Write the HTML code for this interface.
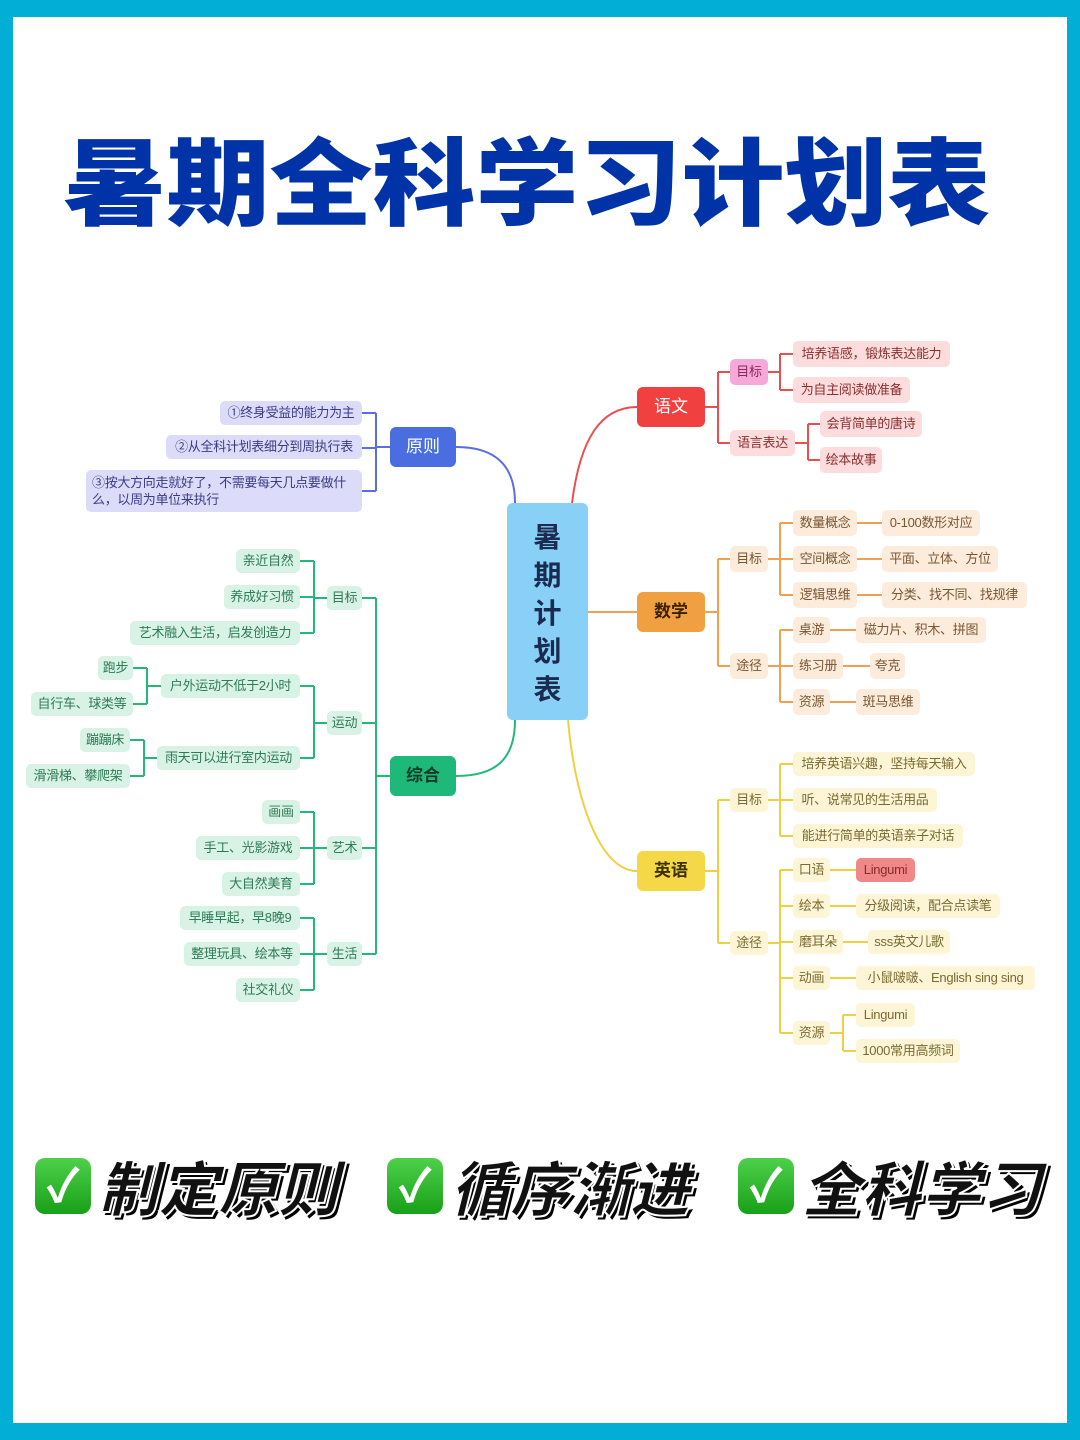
<!DOCTYPE html>
<html><head><meta charset="utf-8"><style>
*{margin:0;padding:0;box-sizing:border-box}
body{width:1080px;height:1440px;background:#03aed6;position:relative;overflow:hidden;font-family:"Liberation Sans","Noto Sans CJK SC",sans-serif}
#w{position:absolute;left:13px;top:17px;width:1054px;height:1406px;background:#fff}
h1{position:absolute;left:27px;top:112px;width:1000px;text-align:center;font-family:"Noto Sans CJK SC",sans-serif;font-weight:900;font-size:103px;color:#0033a8;line-height:130px;transform:scaleY(0.92);transform-origin:50% 50%}
.b{position:absolute;height:24px;line-height:24px;font-size:13px;text-align:center;border-radius:5px;white-space:nowrap;letter-spacing:-0.3px}
.m{position:absolute;height:40px;line-height:40px;font-size:17px;text-align:center;border-radius:6px;font-weight:bold}
.p{background:#dcdcfa;color:#3a3a88}
.g{background:#d8f3e5;color:#2d7a55}
.r{background:#fcdcdc;color:#8a3030}
.o{background:#fdecdc;color:#7a5530}
.y{background:#fdf5d5;color:#7a6a30}
svg{position:absolute;left:0;top:0}
.ft{position:absolute;top:1148px;font-family:"Noto Sans CJK SC",sans-serif;font-weight:900;font-size:60px;font-style:italic;color:#111;line-height:76px;-webkit-text-stroke:2px #fff;text-shadow:3px 3px 0 #000,-2px -2px 0 #fff,2px -2px 0 #fff,-2px 2px 0 #fff}
.ck{position:absolute;top:1158px;width:56px;height:56px;border-radius:10px;background:linear-gradient(#4ed04a,#18a018);color:#fff;font-size:46px;line-height:56px;text-align:center;font-weight:bold}
</style></head><body>
<div id="w"></div>
<h1>暑期全科学习计划表</h1>
<svg width="1080" height="1440" fill="none" stroke-width="2">
<g stroke="#5a6ee0">
<path d="M515 503 C515 465 495 447 456 447"/>
<path d="M390 447 H376 M376 413 V491 M362 413 H376 M362 448 H376 M362 491 H376"/>
</g>
<g stroke="#22b87a">
<path d="M515 720 C515 760 495 776 456 776"/>
<path d="M390 776 H376 M376 598 V954 M362 598 H376 M362 723 H376 M362 848 H376 M362 954 H376"/>
<path d="M327 598 H314 M314 561 V633 M300 561 H314 M300 597 H314 M300 633 H314"/>
<path d="M327 723 H314 M314 686 V758 M300 686 H314 M300 758 H314"/>
<path d="M161 686 H147 M147 668 V704 M133 668 H147 M133 704 H147"/>
<path d="M157 758 H144 M144 740 V776 M130 740 H144 M130 776 H144"/>
<path d="M327 848 H314 M314 812 V884 M300 812 H314 M300 848 H314 M300 884 H314"/>
<path d="M327 954 H314 M314 918 V990 M300 918 H314 M300 954 H314 M300 990 H314"/>
</g>
<g stroke="#e85050">
<path d="M572 503 C580 440 600 407 637 407"/>
<path d="M705 407 H718 M718 372 V443 M718 372 H730 M718 443 H730"/>
<path d="M768 372 H780 M780 354 V390 M780 354 H793 M780 390 H793"/>
<path d="M795 443 H808 M808 424 V460 M808 424 H820 M808 460 H820"/>
</g>
<g stroke="#f0a050">
<path d="M588 612 H637"/>
<path d="M705 612 H718 M718 559 V666 M718 559 H730 M718 666 H730"/>
<path d="M768 559 H780 M780 523 V595 M780 523 H793 M780 559 H793 M780 595 H793"/>
<path d="M857 523 H882 M857 559 H882 M857 595 H882"/>
<path d="M768 666 H780 M780 630 V702 M780 630 H793 M780 666 H793 M780 702 H793"/>
<path d="M830 630 H856 M843 666 H870 M830 702 H856"/>
</g>
<g stroke="#f0d040">
<path d="M568 720 C575 800 600 871 637 871"/>
<path d="M705 871 H718 M718 800 V943 M718 800 H730 M718 943 H730"/>
<path d="M768 800 H780 M780 764 V836 M780 764 H793 M780 800 H793 M780 836 H793"/>
<path d="M768 943 H780 M780 870 V1033 M780 870 H793 M780 906 H793 M780 942 H793 M780 978 H793 M780 1033 H793"/>
<path d="M830 870 H856 M830 906 H856 M843 942 H868 M830 978 H856 M830 1033 H843 M843 1015 V1051 M843 1015 H856 M843 1051 H856"/>
</g>
</svg>

<div style="position:absolute;left:507px;top:503px;width:81px;height:217px;background:#88d0f5;border-radius:6px;color:#1a2a50;font-size:28px;line-height:38px;text-align:center;padding-top:14px;font-family:'Noto Sans CJK SC',sans-serif;font-weight:bold">暑<br>期<br>计<br>划<br>表</div>

<div class="m" style="left:390px;top:427px;width:66px;background:#4a6ee0;color:#fff;font-weight:normal">原则</div>
<div class="b p" style="left:220px;top:401px;width:142px">①终身受益的能力为主</div>
<div class="b p" style="left:166px;top:435px;width:196px">②从全科计划表细分到周执行表</div>
<div class="b p" style="left:86px;top:470px;width:276px;height:42px;line-height:17px;text-align:left;padding:4px 6px;white-space:normal">③按大方向走就好了，不需要每天几点要做什么，以周为单位来执行</div>

<div class="m" style="left:390px;top:756px;width:66px;background:#1db87a;color:#0c3a25">综合</div>
<div class="b g" style="left:327px;top:586px;width:35px">目标</div>
<div class="b g" style="left:327px;top:711px;width:35px">运动</div>
<div class="b g" style="left:327px;top:836px;width:35px">艺术</div>
<div class="b g" style="left:327px;top:942px;width:35px">生活</div>
<div class="b g" style="left:236px;top:549px;width:64px">亲近自然</div>
<div class="b g" style="left:224px;top:585px;width:76px">养成好习惯</div>
<div class="b g" style="left:130px;top:621px;width:170px">艺术融入生活，启发创造力</div>
<div class="b g" style="left:161px;top:674px;width:139px">户外运动不低于2小时</div>
<div class="b g" style="left:157px;top:746px;width:143px">雨天可以进行室内运动</div>
<div class="b g" style="left:98px;top:656px;width:35px">跑步</div>
<div class="b g" style="left:31px;top:692px;width:102px">自行车、球类等</div>
<div class="b g" style="left:80px;top:728px;width:50px">蹦蹦床</div>
<div class="b g" style="left:26px;top:764px;width:104px">滑滑梯、攀爬架</div>
<div class="b g" style="left:262px;top:800px;width:38px">画画</div>
<div class="b g" style="left:196px;top:836px;width:104px">手工、光影游戏</div>
<div class="b g" style="left:222px;top:872px;width:78px">大自然美育</div>
<div class="b g" style="left:180px;top:906px;width:120px">早睡早起，早8晚9</div>
<div class="b g" style="left:184px;top:942px;width:116px">整理玩具、绘本等</div>
<div class="b g" style="left:236px;top:978px;width:64px">社交礼仪</div>

<div class="m" style="left:637px;top:387px;width:68px;background:#f04040;color:#fff;font-weight:normal">语文</div>
<div class="b" style="left:730px;top:359px;width:38px;height:26px;line-height:26px;background:#f6a8d8;color:#8a2a5a">目标</div>
<div class="b r" style="left:730px;top:430px;width:65px;height:26px;line-height:26px">语言表达</div>
<div class="b r" style="left:793px;top:341px;width:157px;height:26px;line-height:26px">培养语感，锻炼表达能力</div>
<div class="b r" style="left:793px;top:377px;width:117px;height:26px;line-height:26px">为自主阅读做准备</div>
<div class="b r" style="left:820px;top:411px;width:102px;height:26px;line-height:26px">会背简单的唐诗</div>
<div class="b r" style="left:820px;top:447px;width:62px;height:26px;line-height:26px">绘本故事</div>

<div class="m" style="left:637px;top:592px;width:68px;background:#f0a040;color:#3a2000">数学</div>
<div class="b o" style="left:730px;top:546px;width:38px;height:26px;line-height:26px">目标</div>
<div class="b o" style="left:730px;top:653px;width:38px;height:26px;line-height:26px">途径</div>
<div class="b o" style="left:793px;top:510px;width:64px;height:26px;line-height:26px">数量概念</div>
<div class="b o" style="left:793px;top:546px;width:64px;height:26px;line-height:26px">空间概念</div>
<div class="b o" style="left:793px;top:582px;width:64px;height:26px;line-height:26px">逻辑思维</div>
<div class="b o" style="left:882px;top:510px;width:98px;height:26px;line-height:26px">0-100数形对应</div>
<div class="b o" style="left:882px;top:546px;width:116px;height:26px;line-height:26px">平面、立体、方位</div>
<div class="b o" style="left:882px;top:582px;width:145px;height:26px;line-height:26px">分类、找不同、找规律</div>
<div class="b o" style="left:793px;top:617px;width:37px;height:26px;line-height:26px">桌游</div>
<div class="b o" style="left:793px;top:653px;width:50px;height:26px;line-height:26px">练习册</div>
<div class="b o" style="left:793px;top:689px;width:37px;height:26px;line-height:26px">资源</div>
<div class="b o" style="left:856px;top:617px;width:130px;height:26px;line-height:26px">磁力片、积木、拼图</div>
<div class="b o" style="left:870px;top:653px;width:35px;height:26px;line-height:26px">夸克</div>
<div class="b o" style="left:856px;top:689px;width:64px;height:26px;line-height:26px">斑马思维</div>

<div class="m" style="left:637px;top:851px;width:68px;background:#f5d848;color:#3a3000">英语</div>
<div class="b y" style="left:730px;top:788px;width:38px">目标</div>
<div class="b y" style="left:730px;top:931px;width:38px">途径</div>
<div class="b y" style="left:793px;top:752px;width:182px">培养英语兴趣，坚持每天输入</div>
<div class="b y" style="left:793px;top:788px;width:144px">听、说常见的生活用品</div>
<div class="b y" style="left:793px;top:824px;width:170px">能进行简单的英语亲子对话</div>
<div class="b y" style="left:793px;top:858px;width:37px">口语</div>
<div class="b y" style="left:793px;top:894px;width:37px">绘本</div>
<div class="b y" style="left:793px;top:930px;width:50px">磨耳朵</div>
<div class="b y" style="left:793px;top:966px;width:37px">动画</div>
<div class="b y" style="left:793px;top:1021px;width:37px">资源</div>
<div class="b" style="left:856px;top:858px;width:59px;background:#f08888;color:#8a2a2a">Lingumi</div>
<div class="b y" style="left:856px;top:894px;width:144px">分级阅读，配合点读笔</div>
<div class="b y" style="left:868px;top:930px;width:82px">sss英文儿歌</div>
<div class="b y" style="left:856px;top:966px;width:179px">小鼠啵啵、English sing sing</div>
<div class="b y" style="left:856px;top:1003px;width:59px">Lingumi</div>
<div class="b y" style="left:856px;top:1039px;width:104px">1000常用高频词</div>

<div class="ck" style="left:35px">✓</div><div class="ft" style="left:98px">制定原则</div>
<div class="ck" style="left:387px">✓</div><div class="ft" style="left:450px">循序渐进</div>
<div class="ck" style="left:738px">✓</div><div class="ft" style="left:801px">全科学习</div>
</body></html>
